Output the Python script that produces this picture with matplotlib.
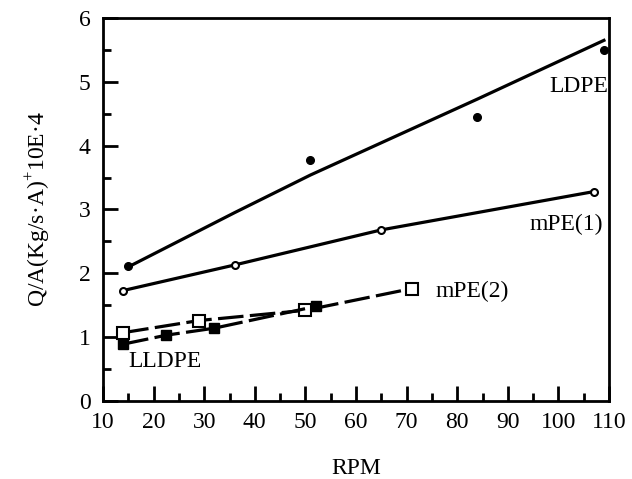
import matplotlib
matplotlib.use("Agg")
import matplotlib.pyplot as plt
from matplotlib.ticker import MultipleLocator

plt.rcParams["font.family"] = ["Liberation Serif", "DejaVu Serif"]
plt.rcParams["mathtext.fontset"] = "custom"
plt.rcParams["mathtext.rm"] = "Liberation Serif"

# Measured points
ldpe_x = [15, 51, 84, 109]
ldpe_y = [2.12, 3.77, 4.45, 5.50]
ldpe_fit_x = [15, 36, 51, 84, 109]
ldpe_fit_y = [2.10, 2.95, 3.54, 4.73, 5.65]

mpe1_x = [14, 36, 65, 107]
mpe1_y = [1.73, 2.13, 2.68, 3.28]

mpe2_x = [14, 29, 50, 71]
mpe2_y = [1.07, 1.26, 1.42, 1.76]

lldpe_x = [14, 22.5, 32, 52]
lldpe_y = [0.89, 1.03, 1.14, 1.48]

fig = plt.figure(figsize=(6.32, 4.79), dpi=100)
ax = fig.add_axes([0.163, 0.163, 0.8006, 0.7994])

# LDPE: scattered points with a smooth trend line
ax.plot(ldpe_fit_x, ldpe_fit_y, color="black", lw=2.3, zorder=2)
ax.plot(ldpe_x, ldpe_y, ls="none", marker="o", ms=5.5, color="black", zorder=3)

# mPE(1): small open markers joined by a solid line
ax.plot(mpe1_x, mpe1_y, color="black", lw=2.3, marker="o", ms=5,
        mfc="white", mec="black", mew=1.5, zorder=3)

# mPE(2): open squares, dashed line
ax.plot(mpe2_x, mpe2_y, color="black", lw=2.3, ls=(0, (8, 2)), marker="s", ms=8,
        mfc="white", mec="black", mew=1.5, zorder=3)

# LLDPE: filled squares, dashed line
ax.plot(lldpe_x, lldpe_y, color="black", lw=2.3, ls=(0, (8, 2)), marker="s", ms=7,
        mfc="black", mec="black", zorder=3)

fs = 17
ax.text(104, 4.92, "LDPE", fontsize=fs, ha="center", va="center")
ax.text(101.5, 2.76, "mPE(1)", fontsize=fs, ha="center", va="center")
ax.text(83, 1.72, "mPE(2)", fontsize=fs, ha="center", va="center")
ax.text(22.3, 0.61, "LLDPE", fontsize=fs, ha="center", va="center")

ax.set_xlim(10, 110)
ax.set_ylim(0, 6)
ax.xaxis.set_major_locator(MultipleLocator(10))
ax.xaxis.set_minor_locator(MultipleLocator(5))
ax.yaxis.set_major_locator(MultipleLocator(1))
ax.yaxis.set_minor_locator(MultipleLocator(0.5))
ax.tick_params(which="both", direction="in", width=2, labelsize=fs,
               top=False, right=False, colors="black")
ax.tick_params(which="major", length=11)
ax.tick_params(axis="x", which="major", pad=8)
ax.tick_params(axis="y", which="major", pad=9)
ax.tick_params(which="minor", length=6)
for s in ax.spines.values():
    s.set_linewidth(2.0)

ax.set_xlabel("RPM", fontsize=fs, labelpad=18)
ax.set_ylabel("Q/A(Kg/s·A)$^{+}$10E·4", fontsize=fs, labelpad=19)

fig.savefig("out.png", dpi=100)
